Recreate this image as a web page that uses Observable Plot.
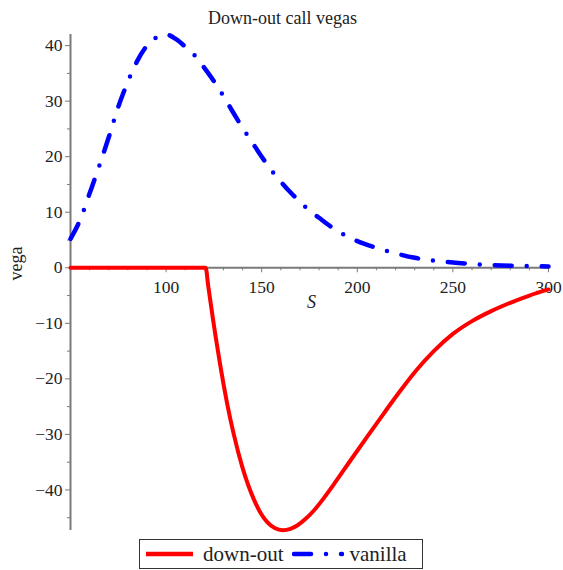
<!DOCTYPE html>
<html><head><meta charset="utf-8">
<script src="https://cdn.jsdelivr.net/npm/d3@7"></script>
<script src="https://cdn.jsdelivr.net/npm/@observablehq/plot@0.6"></script>
<style>
html,body{margin:0;padding:0;background:#fff;}
#chart svg{display:block;}
#legend{position:absolute;left:139px;top:539px;width:284px;height:30px;box-sizing:border-box;border:1.5px solid #333;display:flex;align-items:center;font-family:"Liberation Serif",serif;font-size:21px;color:#222;padding-left:6px;}
#legend svg{display:block;}
</style></head><body>
<div id="chart"></div>
<div id="legend"></div>
<script>
const titleText = "Down-out call vegas";
const xLabel = "S";
const yLabel = "vega";
const seriesNames = ["down-out", "vanilla"];
const seriesColors = ["#ff0000", "#0000ff"];

const downOutS = [50, 120.7, 122, 124.5, 126, 128.2, 130, 131.9, 135.4, 139.8, 145.9, 149.5, 152.9, 157, 161, 165, 168.6, 173, 177.3, 182, 187.7, 196.4, 205.2, 213.9, 222.6, 231, 240, 250, 260, 270, 280, 290, 300];
const downOutVega = [0, 0, -3.2, -9.2, -12.6, -17.3, -20.9, -24.4, -30.0, -35.8, -41.7, -44.2, -45.8, -46.9, -47.25, -47.0, -46.4, -45.2, -43.7, -41.7, -39.0, -34.7, -30.4, -26.2, -22.1, -18.4, -15.0, -11.9, -9.6, -7.8, -6.3, -5.0, -3.9];

const vanillaS = [50, 55, 60, 65, 70, 75, 80, 85, 90, 95, 100, 105, 110, 115, 120, 125, 130, 135, 140, 145, 150, 155, 160, 165, 170, 175, 180, 185, 190, 195, 200, 210, 220, 230, 240, 250, 260, 270, 280, 290, 300];
const vanillaVega = [5.2, 8.6, 13.4, 18.3, 23.5, 29.0, 33.5, 37.3, 40.0, 41.5, 42.0, 41.2, 39.8, 38.2, 36.0, 33.6, 30.9, 28.0, 25.2, 22.6, 20.0, 17.6, 15.5, 13.6, 11.9, 10.3, 9.0, 7.7, 6.6, 5.6, 4.8, 3.6, 2.6, 1.8, 1.3, 0.95, 0.7, 0.5, 0.38, 0.3, 0.25];

const xMajorTicks = [100, 150, 200, 250, 300];
const xMinorTicks = [50, 60, 70, 80, 90, 110, 120, 130, 140, 160, 170, 180, 190, 210, 220, 230, 240, 260, 270, 280, 290];
const yMajorTicks = [-40, -30, -20, -10, 0, 10, 20, 30, 40];
const yMinorTicks = [-45, -35, -25, -15, -5, 5, 15, 25, 35];

const downOut = downOutS.map((s, i) => ({S: s, vega: downOutVega[i]}));
const vanilla = vanillaS.map((s, i) => ({S: s, vega: vanillaVega[i]}));

const axisColor = "#7a7a7a";
const textColor = "#222";
const font = "Liberation Serif";
const fmt = d => d < 0 ? "\u2212" + Math.abs(d) : String(d);

const plot = Plot.plot({
  width: 563, height: 535,
  marginLeft: 70, marginRight: 15, marginTop: 34, marginBottom: 5,
  x: {domain: [50, 300], axis: null},
  y: {domain: [-47.3, 42], axis: null},
  style: {fontFamily: font, background: "#fff", overflow: "visible"},
  marks: [
    Plot.ruleX([50], {stroke: axisColor, strokeWidth: 2}),
    Plot.ruleY([0], {stroke: axisColor, strokeWidth: 2}),
    Plot.axisY(yMajorTicks, {anchor: "left", tickSize: 5, tickPadding: 3, stroke: axisColor, fill: textColor, fontSize: 17.5, label: null, tickFormat: fmt}),
    Plot.axisY(yMinorTicks, {anchor: "left", tickSize: 3, stroke: axisColor, label: null, tickFormat: () => ""}),
    Plot.ruleX(xMajorTicks, {x: d => d, y1: 0, y2: 0, insetBottom: -5, stroke: axisColor, strokeWidth: 1}),
    Plot.ruleX(xMinorTicks, {x: d => d, y1: 0, y2: 0, insetBottom: -3, stroke: axisColor, strokeWidth: 1}),
    Plot.text(xMajorTicks, {x: d => d, y: 0, dy: 20, text: fmt, fontSize: 17.5, fill: textColor}),
    Plot.text([xLabel], {x: 176, y: 0, dy: 34, text: d => d, fontSize: 18, fontStyle: "italic", fill: textColor}),
    Plot.text([yLabel], {frameAnchor: "left", dx: -54, dy: -2, rotate: -90, text: d => d, fontSize: 18, fill: textColor}),
    Plot.text([titleText], {frameAnchor: "top", lineAnchor: "middle", dx: -27, dy: -16, text: d => d, fontSize: 18, fill: textColor}),
    Plot.line(downOut, {x: "S", y: "vega", stroke: seriesColors[0], strokeWidth: 4, curve: "monotone-x"}),
    Plot.line(vanilla, {x: "S", y: "vega", stroke: seriesColors[1], strokeWidth: 4.5, strokeDasharray: "17,15,0,15", strokeLinecap: "round", curve: "monotone-x"})
  ]
});
document.getElementById("chart").appendChild(plot);

// legend
const legend = d3.select("#legend");
const swatch = (w, color, dash) => {
  const s = legend.append("svg").attr("width", w).attr("height", 10);
  const l = s.append("line").attr("x1", dash ? 2 : 0).attr("x2", w - 2).attr("y1", 5).attr("y2", 5)
    .attr("stroke", color).attr("stroke-width", 4.5);
  if (dash) l.attr("stroke-dasharray", dash).attr("stroke-linecap", "round");
  return s;
};
swatch(49, seriesColors[0], null);
legend.append("span").style("margin-left", "8px").style("margin-right", "8px").text(seriesNames[0]);
swatch(52, seriesColors[1], "17,15,0,15");
legend.append("span").style("margin-left", "6px").text(seriesNames[1]);
</script>
</body></html>
